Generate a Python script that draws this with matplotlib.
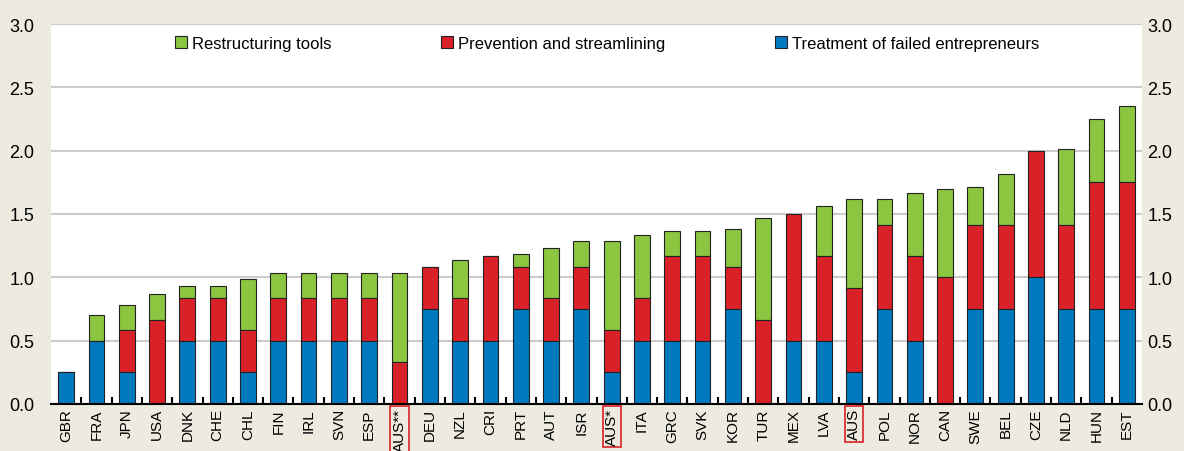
import matplotlib.pyplot as plt
import numpy as np

plt.rcParams['font.family'] = ['Liberation Sans', 'DejaVu Sans']

countries = ['GBR', 'FRA', 'JPN', 'USA', 'DNK', 'CHE', 'CHL', 'FIN', 'IRL', 'SVN', 'ESP', 'AUS**',
             'DEU', 'NZL', 'CRI', 'PRT', 'AUT', 'ISR', 'AUS*', 'ITA', 'GRC', 'SVK', 'KOR', 'TUR',
             'MEX', 'LVA', 'AUS', 'POL', 'NOR', 'CAN', 'SWE', 'BEL', 'CZE', 'NLD', 'HUN', 'EST']
# Treatment of failed entrepreneurs
treatment = [0.25, 0.5, 0.25, 0, 0.5, 0.5, 0.25, 0.5, 0.5, 0.5, 0.5, 0,
             0.75, 0.5, 0.5, 0.75, 0.5, 0.75, 0.25, 0.5, 0.5, 0.5, 0.75, 0,
             0.5, 0.5, 0.25, 0.75, 0.5, 0, 0.75, 0.75, 1.0, 0.75, 0.75, 0.75]
# Prevention and streamlining
prevention = [0, 0, 0.333, 0.667, 0.333, 0.333, 0.333, 0.333, 0.333, 0.333, 0.333, 0.333,
              0.333, 0.333, 0.667, 0.333, 0.333, 0.333, 0.333, 0.333, 0.667, 0.667, 0.333, 0.667,
              1.0, 0.667, 0.667, 0.667, 0.667, 1.0, 0.667, 0.667, 1.0, 0.667, 1.0, 1.0]
# Restructuring tools
restructuring = [0, 0.2, 0.2, 0.2, 0.1, 0.1, 0.4, 0.2, 0.2, 0.2, 0.2, 0.7,
                 0, 0.3, 0, 0.1, 0.4, 0.2, 0.7, 0.5, 0.2, 0.2, 0.3, 0.8,
                 0, 0.4, 0.7, 0.2, 0.5, 0.7, 0.3, 0.4, 0, 0.6, 0.5, 0.6]
highlight = ['AUS**', 'AUS*', 'AUS']
yticks = [0.0, 0.5, 1.0, 1.5, 2.0, 2.5, 3.0]

blue = '#0179BF'
red = '#DA2128'
green = '#8CC540'
bg = '#EDEAE0'

fig = plt.figure(figsize=(11.84, 4.52), dpi=100, facecolor=bg)
ax = fig.add_axes([51/1184, 1-405/452, (1142-51)/1184, 380/452])
ax.set_facecolor('white')

x = np.arange(len(countries))
t = np.array(treatment)
p = np.array(prevention)
r = np.array(restructuring)
w = 0.52
ax.bar(x, r, w, bottom=t+p, color=green, edgecolor='#222222', linewidth=0.8, label='Restructuring tools', zorder=3)
ax.bar(x, p, w, bottom=t, color=red, edgecolor='#222222', linewidth=0.8, label='Prevention and streamlining', zorder=3)
ax.bar(x, t, w, color=blue, edgecolor='#222222', linewidth=0.8, label='Treatment of failed entrepreneurs', zorder=3)

ax.set_xlim(-0.5, len(countries) - 0.5)
ax.set_ylim(0, 3.0)
ax.set_yticks(yticks)
ax.set_yticklabels(['%.1f' % v for v in yticks])
ax.yaxis.grid(True, color='#CCCCCC', linewidth=1.5, zorder=0)
ax.set_axisbelow(True)
for s in ['top', 'left', 'right']:
    ax.spines[s].set_visible(False)
ax.spines['bottom'].set_linewidth(1.5)
ax.spines['bottom'].set_zorder(4)
ax.tick_params(axis='y', length=0, labelsize=13, pad=12)

# right-hand axis labels
ax2 = ax.twinx()
ax2.set_ylim(0, 3.0)
ax2.set_yticks(yticks)
ax2.set_yticklabels(['%.1f' % v for v in yticks])
ax2.tick_params(axis='y', length=0, labelsize=13, pad=4)
for s in ['top', 'left', 'right', 'bottom']:
    ax2.spines[s].set_visible(False)

ax.set_xticks(x)
ax.set_xticklabels(countries, rotation=90, fontsize=11)
ax.tick_params(axis='x', which='major', length=0, pad=3)
ax.set_xticks(x[:-1] + 0.5, minor=True)
ax.tick_params(axis='x', which='minor', direction='in', length=5, width=1.5)

for lab in ax.get_xticklabels():
    if lab.get_text() in highlight:
        lab.set_bbox(dict(facecolor='none', edgecolor=red, linewidth=1.2, pad=1.5))

leg = ax.legend(loc='upper left', bbox_to_anchor=((175-51)/1091, (405-37)/380), ncol=3, frameon=False,
                fontsize=12, handlelength=0.7, handleheight=0.7, handletextpad=0.3,
                columnspacing=6.6, borderpad=0, borderaxespad=0)

fig.savefig('out.png', dpi=100, facecolor=bg)
